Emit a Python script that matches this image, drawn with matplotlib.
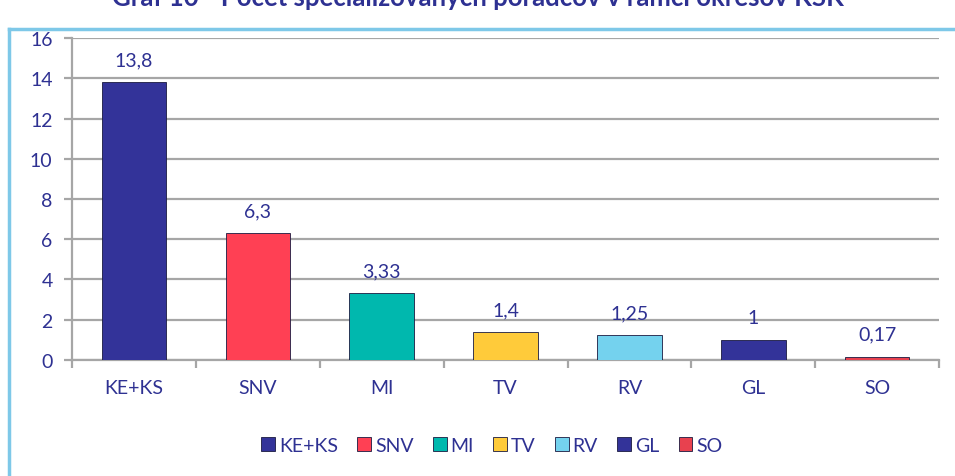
import numpy as np
import matplotlib.pyplot as plt
from matplotlib.lines import Line2D
from matplotlib.patches import Patch

# údaje z grafu
okresy = ['KE+KS', 'SNV', 'MI', 'TV', 'RV', 'GL', 'SO']
hodnoty = [13.8, 6.3, 3.33, 1.4, 1.25, 1, 0.17]
popisky = ['13,8', '6,3', '3,33', '1,4', '1,25', '1', '0,17']
farby = ['#333399', '#FF4054', '#00B8AE', '#FFCB3A', '#74D2EE', '#333399', '#E8414F']

text_col = '#2E3192'
grid_col = '#A6A6A6'

plt.rcParams['font.family'] = ['Lato', 'DejaVu Sans']

fig = plt.figure(figsize=(9.55, 4.77), dpi=100)
ax = fig.add_axes([0.0754, 0.2432, 0.908, 0.675])

x = np.arange(len(okresy))
bars = ax.bar(x, hodnoty, width=0.52, color=farby, edgecolor='#1a1a40', linewidth=0.6, zorder=3)

for b, lab in zip(bars, popisky):
    ax.annotate(lab, (b.get_x() + b.get_width() / 2, b.get_height()),
                xytext=(0, 10), textcoords='offset points',
                ha='center', va='bottom', fontsize=14, color=text_col)

ax.set_xlim(-0.5, len(okresy) - 0.5)
ax.set_ylim(0, 16)
ax.set_yticks(range(0, 17, 2))
ax.yaxis.grid(True, color=grid_col, linewidth=1.6, zorder=0)
ax.set_axisbelow(True)

ax.set_xticks(x)
ax.set_xticklabels(okresy)
ax.set_xticks(np.arange(-0.5, len(okresy)), minor=True)
ax.tick_params(axis='x', which='major', length=0, pad=14, labelsize=14, labelcolor=text_col)
ax.tick_params(axis='x', which='minor', length=6, width=1.6, color=grid_col)
ax.tick_params(axis='y', length=6, width=1.6, color=grid_col, labelsize=14, labelcolor=text_col, pad=8)

for s in ['top', 'right']:
    ax.spines[s].set_visible(False)
for s in ['left', 'bottom']:
    ax.spines[s].set_color(grid_col)
    ax.spines[s].set_linewidth(1.6)

# legenda
handles = [Patch(facecolor=c, edgecolor='#1a1a40', linewidth=0.6) for c in farby]
fig.legend(handles, okresy, loc='center', bbox_to_anchor=(0.515, 0.064), ncol=7,
           frameon=False, fontsize=14, labelcolor=text_col, handlelength=0.7,
           handleheight=0.7, handletextpad=0.2, columnspacing=1.0)

# rámček
fig.add_artist(Line2D([9 / 955, 9 / 955], [0, 1 - 30 / 477], color='#7EC8E8', linewidth=2.5))
fig.add_artist(Line2D([9 / 955, 1], [1 - 30 / 477, 1 - 30 / 477], color='#7EC8E8', linewidth=2.5))

# nadpis (v originále orezaný hornou hranou)
fig.text(0.5, 1 - 6 / 477, 'Graf 10 - Počet špecializovaných poradcov v rámci okresov KSK',
         ha='center', va='baseline', fontsize=18.5, fontweight='bold', color=text_col)

fig.savefig('out.png', dpi=100)
